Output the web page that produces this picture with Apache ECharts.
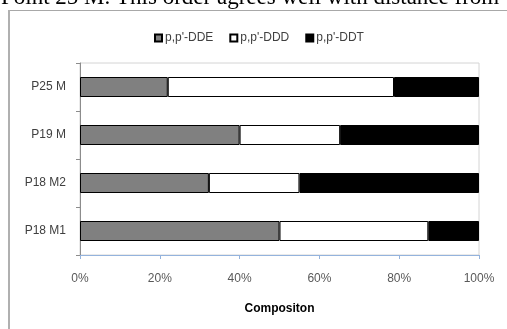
<!DOCTYPE html>
<html>
<head>
<meta charset="utf-8">
<script src="https://cdn.jsdelivr.net/npm/echarts@6/dist/echarts.min.js"></script>
<style>
html,body{margin:0;padding:0;background:#fff;}
#c{width:507px;height:329px;}
</style>
</head>
<body>
<div id="c"></div>
<script>
var categories = ['P18 M1', 'P18 M2', 'P19 M', 'P25 M'];
var seriesNames = ["p,p'-DDE", "p,p'-DDD", "p,p'-DDT"];
var ddeValues = [50, 32.3, 40, 22];
var dddValues = [37.3, 22.7, 25.2, 56.7];
var ddtValues = [12.7, 45, 34.8, 21.3];
var xTicks = [0, 20, 40, 60, 80, 100];
var headerText = 'Point 25 M. This order agrees well with distance from';

var chart = echarts.init(document.getElementById('c'));
var font = 'Liberation Sans';
function bar(name, data, color) {
  return {
    name: name, type: 'bar', stack: 'total', data: data, barWidth: 20,
    itemStyle: { color: color, borderColor: '#000', borderWidth: 1 },
    emphasis: { disabled: true }
  };
}
chart.setOption({
  animation: false,
  backgroundColor: '#fff',
  textStyle: { fontFamily: font },
  graphic: [
    { type: 'text', left: 1, top: -14, silent: true,
      style: { text: headerText, font: '23px "Liberation Serif"', fill: '#000' } },
    { type: 'line', silent: true, shape: { x1: 8, y1: 10.5, x2: 507, y2: 10.5 },
      style: { stroke: '#a8a8a8', lineWidth: 1 } },
    { type: 'line', silent: true, shape: { x1: 9, y1: 10, x2: 9, y2: 329 },
      style: { stroke: '#b0b0b0', lineWidth: 2 } }
  ],
  legend: {
    left: 149, top: 27, itemWidth: 7, itemHeight: 7, itemGap: 16,
    icon: 'rect',
    textStyle: { fontSize: 12, color: '#404040', fontFamily: font, padding: [0, 0, 0, -2] },
    data: seriesNames
  },
  grid: { left: 80, right: 28, top: 63, bottom: 74, show: true, borderColor: '#d4d4d4', borderWidth: 1, containLabel: false },
  xAxis: {
    type: 'value', min: 0, max: 100, interval: 20,
    name: 'Compositon', nameLocation: 'middle', nameGap: 48,
    nameTextStyle: { fontSize: 12, fontWeight: 'bold', color: '#000', fontFamily: font },
    axisLine: { show: true, lineStyle: { color: '#94b3dd', width: 1 } },
    axisTick: { show: true, length: 4, lineStyle: { color: '#94b3dd' } },
    axisLabel: { fontSize: 12, color: '#595959', margin: 18, formatter: '{value}%', fontFamily: font },
    splitLine: { show: false }
  },
  yAxis: {
    type: 'category', data: categories,
    axisLine: { show: true, lineStyle: { color: '#8c8c8c' } },
    axisTick: { show: true, length: 4, lineStyle: { color: '#8c8c8c' } },
    axisLabel: { fontSize: 12, color: '#404040', margin: 14, fontFamily: font }
  },
  series: [
    bar(seriesNames[0], ddeValues, '#808080'),
    bar(seriesNames[1], dddValues, '#ffffff'),
    bar(seriesNames[2], ddtValues, '#000000')
  ]
});
</script>
</body>
</html>
